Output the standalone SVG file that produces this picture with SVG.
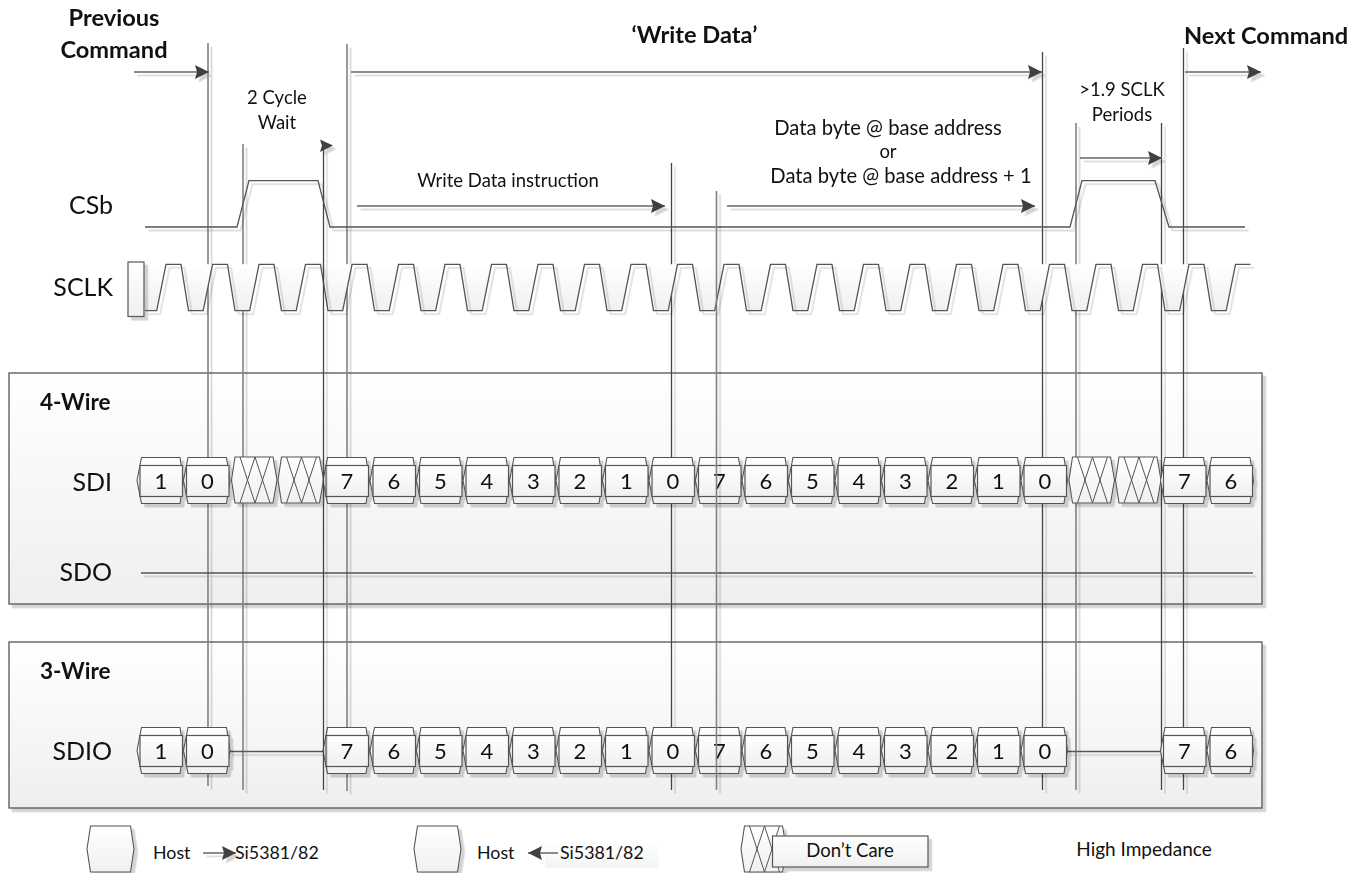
<svg xmlns="http://www.w3.org/2000/svg" width="1366" height="873" viewBox="0 0 1366 873">
<style>
text{font-family:"Lato","Carlito","Liberation Sans",sans-serif;fill:#111;text-anchor:middle}
.b{font-weight:700;font-size:23.6px}
.sig{font-size:25px;text-anchor:end}
.s{font-size:18.5px}
.m{font-size:20.2px}
.l{font-size:17.8px;text-anchor:start}
.d{font-size:22px}
.w{font-weight:700;font-size:22.6px;text-anchor:start}
.ln{fill:none;stroke:#555;stroke-width:1.3}
.v{fill:none;stroke:#454545;stroke-width:1.3}
.g{fill:none;stroke:#808080;stroke-width:1.6}
.a{fill:none;stroke:#666;stroke-width:1.5;marker-end:url(#ah)}
.hx{fill:url(#gc);stroke:#555;stroke-width:1.1}
.rc{fill:url(#gc);stroke:#555;stroke-width:1.2}
.x{fill:none;stroke:#555;stroke-width:1}
.p{fill:url(#gp);stroke:#555;stroke-width:1.3}
</style>
<defs>
<linearGradient id="gp" x1="0" y1="0" x2="0" y2="1"><stop offset="0" stop-color="#fff"/><stop offset="1" stop-color="#efefef"/></linearGradient>
<linearGradient id="gc" x1="0" y1="0" x2="0" y2="1"><stop offset="0" stop-color="#fff"/><stop offset="1" stop-color="#f0f0f0"/></linearGradient>
<filter id="sh" filterUnits="userSpaceOnUse" x="0" y="0" width="1366" height="873"><feDropShadow dx="3.5" dy="3.5" stdDeviation="0.6" flood-color="#000" flood-opacity="0.17"/></filter>
<marker id="ah" markerUnits="userSpaceOnUse" markerWidth="16" markerHeight="16" refX="14" refY="8" orient="auto"><path d="M0 1 L14 8 L0 15 L2 8 Z" fill="#404040"/></marker>
<g id="cell"><path class="hx" d="M-24 0 L-19.500-23 H19 L22.500 0 L19 23 H-19.500 Z"/><rect class="rc" x="-21" y="-15" width="42.500" height="31"/></g>
<g id="xcell"><path class="hx" d="M-22.500 0 L-19-23 H19 L23 0 L19 23 H-19 Z"/><path class="x" d="M-14-23 L1 23 M1-23 L-14 23 M1-23 L16 23 M16-23 L1 23"/></g>
<path id="hex" class="hx" d="M-23.500 0 L-20-23 H20 L23.500 0 L20 23 H-20 Z"/>
</defs>
<rect width="1366" height="873" fill="#fff"/>

<g filter="url(#sh)">
<rect id="panel-4wire" class="p" x="9" y="373" width="1253" height="231"/>
<rect id="panel-3wire" class="p" x="9" y="642" width="1253" height="166"/>
</g>

<g id="connectors" filter="url(#sh)">
<path class="g" d="M208 43V786M243 144V790M347 44V791"/>
<path class="g" d="M1076 123V790"/>
<path class="v" d="M671.500 163V790M1042.500 52V790M1161.500 123V790M1183.500 48V790"/>
<path class="a" d="M134 72H209"/>
<path class="a" d="M351 72H1042"/>
<path class="a" d="M1185 72H1261"/>
<path class="a" d="M357 206H665"/>
<path class="a" d="M727 206H1035"/>
<path class="a" d="M1080 158H1162"/>
<path class="ln" d="M141 573H1253"/>
<path class="ln" d="M229 751.500H326M1067 751.500H1162"/>
</g>

<g id="csb" filter="url(#sh)"><path class="ln" d="M145 227H237L249 180.700H318L330 227H1070L1082 180.700H1155L1169 227H1245"/></g>

<g id="sclk">
<path fill="url(#gc)" d="M145 264.300V310.700H156.700
l9.300-46.400h15l7.500 46.400h14.700 l9.300-46.400h15l7.500 46.400h14.700 l9.300-46.400h15l7.500 46.400h14.700 l9.300-46.400h15l7.500 46.400h14.700
l9.300-46.400h15l7.500 46.400h14.700 l9.300-46.400h15l7.500 46.400h14.700 l9.300-46.400h15l7.500 46.400h14.700 l9.300-46.400h15l7.500 46.400h14.700
l9.300-46.400h15l7.500 46.400h14.700 l9.300-46.400h15l7.500 46.400h14.700 l9.300-46.400h15l7.500 46.400h14.700 l9.300-46.400h15l7.500 46.400h14.700
l9.300-46.400h15l7.500 46.400h14.700 l9.300-46.400h15l7.500 46.400h14.700 l9.300-46.400h15l7.500 46.400h14.700 l9.300-46.400h15l7.500 46.400h14.700
l9.300-46.400h15l7.500 46.400h14.700 l9.300-46.400h15l7.500 46.400h14.700 l9.300-46.400h15l7.500 46.400h14.700 l9.300-46.400h15l7.500 46.400h14.700
l9.300-46.400h15l7.500 46.400h14.700 l9.300-46.400h15l7.500 46.400h14.700 l9.300-46.400h15l7.500 46.400h14.700 l9.300-46.400h15Z"/>
<g filter="url(#sh)">
<path class="ln" d="M145 310.700H156.700
l9.300-46.400h15l7.500 46.400h14.700 l9.300-46.400h15l7.500 46.400h14.700 l9.300-46.400h15l7.500 46.400h14.700 l9.300-46.400h15l7.500 46.400h14.700
l9.300-46.400h15l7.500 46.400h14.700 l9.300-46.400h15l7.500 46.400h14.700 l9.300-46.400h15l7.500 46.400h14.700 l9.300-46.400h15l7.500 46.400h14.700
l9.300-46.400h15l7.500 46.400h14.700 l9.300-46.400h15l7.500 46.400h14.700 l9.300-46.400h15l7.500 46.400h14.700 l9.300-46.400h15l7.500 46.400h14.700
l9.300-46.400h15l7.500 46.400h14.700 l9.300-46.400h15l7.500 46.400h14.700 l9.300-46.400h15l7.500 46.400h14.700 l9.300-46.400h15l7.500 46.400h14.700
l9.300-46.400h15l7.500 46.400h14.700 l9.300-46.400h15l7.500 46.400h14.700 l9.300-46.400h15l7.500 46.400h14.700 l9.300-46.400h15l7.500 46.400h14.700
l9.300-46.400h15l7.500 46.400h14.700 l9.300-46.400h15l7.500 46.400h14.700 l9.300-46.400h15l7.500 46.400h14.700 l9.300-46.400h15"/>
<rect class="rc" x="128" y="262" width="16" height="54.500"/>
</g>
</g>

<g id="sdi-cells" filter="url(#sh)">
<g id="sdi-0"><use href="#cell" x="161" y="480.500"/><text class="d" x="161" y="488.500">1</text></g>
<g id="sdi-1"><use href="#cell" x="207.500" y="480.500"/><text class="d" x="207.500" y="488.500">0</text></g>
<g id="sdi-x1"><use href="#xcell" x="254" y="480"/></g>
<g id="sdi-x2"><use href="#xcell" x="300.500" y="480"/></g>
<g id="sdi-4"><use href="#cell" x="347" y="480.500"/><text class="d" x="347" y="488.500">7</text></g>
<g id="sdi-5"><use href="#cell" x="394" y="480.500"/><text class="d" x="394" y="488.500">6</text></g>
<g id="sdi-6"><use href="#cell" x="440.500" y="480.500"/><text class="d" x="440.500" y="488.500">5</text></g>
<g id="sdi-7"><use href="#cell" x="487" y="480.500"/><text class="d" x="487" y="488.500">4</text></g>
<g id="sdi-8"><use href="#cell" x="533.500" y="480.500"/><text class="d" x="533.500" y="488.500">3</text></g>
<g id="sdi-9"><use href="#cell" x="580" y="480.500"/><text class="d" x="580" y="488.500">2</text></g>
<g id="sdi-10"><use href="#cell" x="626.500" y="480.500"/><text class="d" x="626.500" y="488.500">1</text></g>
<g id="sdi-11"><use href="#cell" x="673" y="480.500"/><text class="d" x="673" y="488.500">0</text></g>
<g id="sdi-12"><use href="#cell" x="719.500" y="480.500"/><text class="d" x="719.500" y="488.500">7</text></g>
<g id="sdi-13"><use href="#cell" x="766" y="480.500"/><text class="d" x="766" y="488.500">6</text></g>
<g id="sdi-14"><use href="#cell" x="812.500" y="480.500"/><text class="d" x="812.500" y="488.500">5</text></g>
<g id="sdi-15"><use href="#cell" x="859" y="480.500"/><text class="d" x="859" y="488.500">4</text></g>
<g id="sdi-16"><use href="#cell" x="905.500" y="480.500"/><text class="d" x="905.500" y="488.500">3</text></g>
<g id="sdi-17"><use href="#cell" x="952" y="480.500"/><text class="d" x="952" y="488.500">2</text></g>
<g id="sdi-18"><use href="#cell" x="998.500" y="480.500"/><text class="d" x="998.500" y="488.500">1</text></g>
<g id="sdi-19"><use href="#cell" x="1045" y="480.500"/><text class="d" x="1045" y="488.500">0</text></g>
<g id="sdi-x3"><use href="#xcell" x="1091.500" y="480"/></g>
<g id="sdi-x4"><use href="#xcell" x="1138" y="480"/></g>
<g id="sdi-22"><use href="#cell" x="1184.500" y="480.500"/><text class="d" x="1184.500" y="488.500">7</text></g>
<g id="sdi-23"><use href="#cell" x="1231" y="480.500"/><text class="d" x="1231" y="488.500">6</text></g>
</g>

<g id="sdio-cells" filter="url(#sh)">
<g id="sdio-0"><use href="#cell" x="161" y="750.500"/><text class="d" x="161" y="758.500">1</text></g>
<g id="sdio-1"><use href="#cell" x="207.500" y="750.500"/><text class="d" x="207.500" y="758.500">0</text></g>
<g id="sdio-4"><use href="#cell" x="347" y="750.500"/><text class="d" x="347" y="758.500">7</text></g>
<g id="sdio-5"><use href="#cell" x="394" y="750.500"/><text class="d" x="394" y="758.500">6</text></g>
<g id="sdio-6"><use href="#cell" x="440.500" y="750.500"/><text class="d" x="440.500" y="758.500">5</text></g>
<g id="sdio-7"><use href="#cell" x="487" y="750.500"/><text class="d" x="487" y="758.500">4</text></g>
<g id="sdio-8"><use href="#cell" x="533.500" y="750.500"/><text class="d" x="533.500" y="758.500">3</text></g>
<g id="sdio-9"><use href="#cell" x="580" y="750.500"/><text class="d" x="580" y="758.500">2</text></g>
<g id="sdio-10"><use href="#cell" x="626.500" y="750.500"/><text class="d" x="626.500" y="758.500">1</text></g>
<g id="sdio-11"><use href="#cell" x="673" y="750.500"/><text class="d" x="673" y="758.500">0</text></g>
<g id="sdio-12"><use href="#cell" x="719.500" y="750.500"/><text class="d" x="719.500" y="758.500">7</text></g>
<g id="sdio-13"><use href="#cell" x="766" y="750.500"/><text class="d" x="766" y="758.500">6</text></g>
<g id="sdio-14"><use href="#cell" x="812.500" y="750.500"/><text class="d" x="812.500" y="758.500">5</text></g>
<g id="sdio-15"><use href="#cell" x="859" y="750.500"/><text class="d" x="859" y="758.500">4</text></g>
<g id="sdio-16"><use href="#cell" x="905.500" y="750.500"/><text class="d" x="905.500" y="758.500">3</text></g>
<g id="sdio-17"><use href="#cell" x="952" y="750.500"/><text class="d" x="952" y="758.500">2</text></g>
<g id="sdio-18"><use href="#cell" x="998.500" y="750.500"/><text class="d" x="998.500" y="758.500">1</text></g>
<g id="sdio-19"><use href="#cell" x="1045" y="750.500"/><text class="d" x="1045" y="758.500">0</text></g>
<g id="sdio-22"><use href="#cell" x="1184.500" y="750.500"/><text class="d" x="1184.500" y="758.500">7</text></g>
<g id="sdio-23"><use href="#cell" x="1231" y="750.500"/><text class="d" x="1231" y="758.500">6</text></g>
</g>

<g id="connectors-over" filter="url(#sh)">
<path class="v" d="M323.500 146V790"/>
<path d="M320 139.500 L333 145.500 L320 152 L322 145.500 Z" fill="#404040"/>
<path class="g" d="M716.500 191V790"/>
</g>

<g id="labels">
<text class="b" x="114" y="26">Previous</text>
<text class="b" x="114" y="58">Command</text>
<text class="b" x="694.500" y="43">‘Write Data’</text>
<text class="b" x="1266" y="44">Next Command</text>
<text class="s" x="277" y="104">2 Cycle</text>
<text class="s" x="277" y="129">Wait</text>
<text class="s" x="508" y="187">Write Data instruction</text>
<text class="m" x="888" y="135">Data byte @ base address</text>
<text class="s" x="888" y="158">or</text>
<text class="m" x="901" y="183">Data byte @ base address + 1</text>
<text class="s" x="1122" y="96">&gt;1.9 SCLK</text>
<text class="s" x="1122" y="121">Periods</text>
<text class="sig" x="113" y="214">CSb</text>
<text class="sig" x="113" y="296">SCLK</text>
<text class="sig" x="112" y="491">SDI</text>
<text class="sig" x="112" y="581">SDO</text>
<text class="sig" x="112" y="760">SDIO</text>
<text class="w" x="40" y="410">4-Wire</text>
<text class="w" x="40" y="679">3-Wire</text>
</g>

<g id="legend-host-out" filter="url(#sh)">
<use href="#hex" x="110.500" y="849"/>
<path class="a" d="M203 853H236"/>
</g>
<text class="l" x="153" y="859">Host</text>
<text class="l" x="235" y="859">Si5381/82</text>

<g id="legend-host-in" filter="url(#sh)">
<use href="#hex" x="437.500" y="849"/>
</g>
<rect x="545" y="840" width="114" height="28" fill="url(#gc)" opacity="0.7"/>
<path class="a" d="M558 853H528"/>
<text class="l" x="477" y="859">Host</text>
<text class="l" x="560" y="859">Si5381/82</text>

<g id="legend-dontcare" filter="url(#sh)">
<use href="#xcell" x="763.500" y="849"/>
<rect class="rc" x="772.500" y="836" width="155.500" height="31"/>
</g>
<text class="s" x="850" y="856.500">Don’t Care</text>

<text id="legend-highz" class="s" x="1144" y="856" style="font-size:19px">High Impedance</text>
</svg>
